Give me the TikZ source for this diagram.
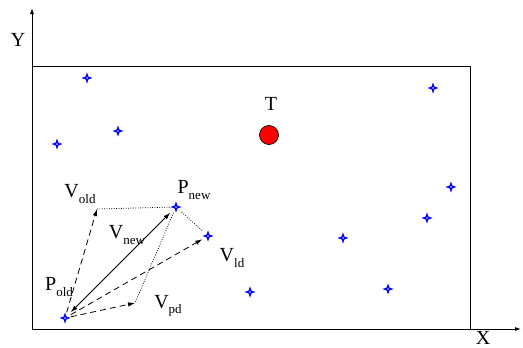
\documentclass[tikz,border=0pt]{standalone}
\usepackage{fontspec}
\setmainfont{Liberation Serif}
\usepackage{tikz}
\usetikzlibrary{arrows.meta}
\usetikzlibrary{positioning,calc}

\newcommand{\sublbl}[2]{#1\raisebox{-0.28em}{\fontsize{13}{13}\selectfont #2}}

\begin{document}
\begin{tikzpicture}[x=1pt,y=-1pt,>=Latex,line join=round]
% -------------------------------------------------
% Styles
% -------------------------------------------------
\tikzset{
  frame/.style={draw=black, line width=0.9pt},
  axisline/.style={-{Latex[length=6pt,width=4pt]}, line width=0.9pt},
  vecarrow/.style={{Latex[length=7pt,width=4.5pt]}-{Latex[length=7pt,width=4.5pt]}, line width=0.9pt},
  dasharrow/.style={-{Latex[length=7pt,width=4.5pt]}, line width=0.8pt, dash pattern=on 6pt off 4pt},
  dotline/.style={line width=0.8pt, dash pattern=on 0.8pt off 1.6pt},
  site/.style={inner sep=0pt, minimum size=11pt, path picture={
      \fill[blue] ($(path picture bounding box.center)+(0,5.5)$) -- ++(1.4,-4.1) -- ++(4.1,-1.4)
        -- ++(-4.1,-1.4) -- ++(-1.4,-4.1) -- ++(-1.4,4.1) -- ++(-4.1,1.4) -- ++(4.1,1.4) -- cycle;
      \fill[blue!30] (path picture bounding box.center) circle (1pt);}},
  lbl/.style={font=\fontsize{20}{20}\selectfont, inner sep=0pt},
}
\useasboundingbox (0,0) rectangle (523,348);
% -------------------------------------------------
% axes and area
% -------------------------------------------------
\coordinate (origin) at (32,329);
\coordinate (ytip) at (32,8);
\coordinate (xtip) at (521,329);
\draw[axisline] (origin) -- (ytip);
\draw[axisline] (origin) -- (xtip);
\draw[frame] (32,66) rectangle (470,329);
\node[lbl] (ylab) at (18,40) {Y};
\node[lbl] (xlab) at (483,338) {X};

% -------------------------------------------------
% sites
% -------------------------------------------------
\node[site] (s1) at (87,78) {};
\node[site] (s2) at (57,144) {};
\node[site] (s3) at (118,131) {};
\node[site] (s4) at (433,88) {};
\node[site] (s5) at (451,187) {};
\node[site] (s6) at (427,218) {};
\node[site] (s7) at (343,238) {};
\node[site] (s8) at (250,292) {};
\node[site] (s9) at (388,289) {};
\node[site] (pold) at (65,318) {};
\node[site] (pnew) at (176,207) {};
\node[site] (vld) at (208,236) {};

% target
\node[circle, draw=black, fill=red, line width=0.7pt, minimum size=19pt, inner sep=0pt] (target) at (269,135) {};
\node[lbl] (tlab) at (271,104) {T};

% -------------------------------------------------
% vectors
% -------------------------------------------------
\coordinate (vold) at (97,209);
\coordinate (vpd) at (135,303);
\draw[dotline] (vold) -- (pnew);
\draw[dotline] (pnew) -- (vld);
\draw[dotline] (pnew) -- (vpd);
\draw[dasharrow] (pold) -- (vold);
\draw[dasharrow] (pold) -- (vld);
\draw[dasharrow] (pold) -- (vpd);
\draw[vecarrow] (pold) -- (pnew);

\node[lbl] (voldlab) at (80,194) {\sublbl{V}{old}};
\node[lbl] (pnewlab) at (194,190) {\sublbl{P}{new}};
\node[lbl] (vnewlab) at (127,235) {\sublbl{V}{new}};
\node[lbl] (vldlab) at (232,258) {\sublbl{V}{ld}};
\node[lbl] (poldlab) at (59,287) {\sublbl{P}{old}};
\node[lbl] (vpdlab) at (168,306) {\sublbl{V}{pd}};

\end{tikzpicture}
\end{document}
